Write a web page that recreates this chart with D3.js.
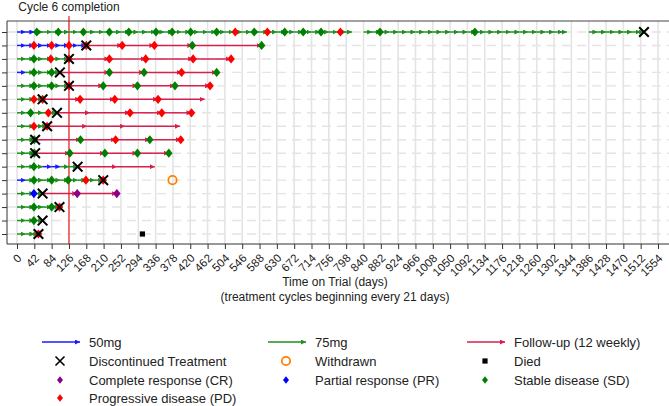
<!DOCTYPE html>
<html><head><meta charset="utf-8">
<script src="https://cdn.jsdelivr.net/npm/d3@7/dist/d3.min.js"></script>
<style>
body{margin:0;background:#fff;}
text{font-family:Arial,"Liberation Sans",sans-serif;}
</style>
</head><body>
<svg id="chart" width="669" height="406"></svg>
<script>
// ---------------- DATA ----------------
const patients = [1,2,3,4,5,6,7,8,9,10,11,12,13,14,15,16];
const xTickValues = [0,42,84,126,168,210,252,294,336,378,420,462,504,546,588,630,672,714,756,798,840,882,924,966,1008,1050,1092,1134,1176,1218,1260,1302,1344,1386,1428,1470,1512,1554];
const cycleLength = 21;
const cycle6Day = 126;
// treatment periods: [patient, dose, startDay, endDay]
const treatment = [
  [1,"50mg",0,42],[1,"75mg",42,812],[1,"75mg",840,1333],[1,"75mg",1386,1520],
  [2,"50mg",0,168],
  [3,"75mg",0,126],
  [4,"50mg",0,21],[4,"75mg",21,104],
  [5,"75mg",0,126],
  [6,"75mg",0,62],
  [7,"75mg",0,97],
  [8,"75mg",0,73],
  [9,"75mg",0,44],
  [10,"75mg",0,44],
  [11,"75mg",0,63],[11,"50mg",63,105],[11,"75mg",105,147],
  [12,"50mg",0,21],[12,"75mg",21,209],
  [13,"75mg",0,62],
  [14,"75mg",0,103],
  [15,"75mg",0,62],
  [16,"75mg",0,52]
];
// response assessments: [patient, day, response]
const assessments = [
  [1,48,"SD"],[1,100,"SD"],[1,161,"SD"],[1,224,"SD"],[1,271,"SD"],[1,337,"SD"],[1,376,"SD"],[1,421,"SD"],[1,484,"SD"],[1,529,"PD"],[1,575,"SD"],[1,607,"PD"],[1,649,"SD"],[1,694,"SD"],[1,737,"SD"],[1,784,"PD"],[1,880,"SD"],[1,1110,"SD"],
  [2,41,"PD"],[2,84,"PD"],[2,126,"PD"],[2,168,"PD"],[2,255,"PD"],[2,333,"PD"],[2,425,"SD"],[2,593,"SD"],
  [3,41,"SD"],[3,82,"PD"],[3,126,"PD"],[3,224,"PD"],[3,312,"PD"],[3,427,"PD"],[3,519,"PD"],
  [4,41,"SD"],[4,84,"SD"],[4,224,"SD"],[4,308,"SD"],[4,399,"PD"],[4,484,"SD"],
  [5,41,"SD"],[5,84,"SD"],[5,126,"PD"],[5,209,"SD"],[5,292,"SD"],[5,383,"SD"],[5,468,"PD"],
  [6,41,"PD"],[6,62,"PD"],[6,153,"PD"],[6,237,"PD"],[6,342,"PD"],
  [7,33,"SD"],[7,76,"PD"],[7,274,"PD"],[7,351,"PD"],[7,423,"PD"],
  [8,41,"PD"],[8,73,"PD"],
  [9,42,"SD"],[9,154,"SD"],[9,239,"PD"],[9,322,"SD"],[9,397,"PD"],
  [10,42,"SD"],[10,128,"SD"],[10,213,"SD"],[10,292,"SD"],[10,368,"SD"],
  [11,41,"SD"],
  [12,41,"SD"],[12,84,"SD"],[12,124,"SD"],[12,167,"PD"],[12,209,"PD"],
  [13,41,"PR"],[13,146,"CR"],[13,242,"CR"],
  [14,41,"SD"],[14,84,"SD"],[14,103,"PD"],
  [15,41,"SD"],
  [16,52,"PD"]
];
// discontinued treatment: [patient, day]
const discontinued = [[1,1520],[2,168],[3,126],[4,104],[5,126],[6,62],[7,97],[8,73],[9,44],[10,44],[11,147],[12,209],[13,62],[14,103],[15,62],[16,52]];
// follow-up visits after discontinuation: [patient, day]
const followUp = [
  [2,255],[2,333],[2,425],[2,593],
  [3,224],[3,312],[3,427],[3,519],
  [4,224],[4,308],[4,399],[4,484],
  [5,209],[5,292],[5,383],[5,468],
  [6,153],[6,237],[6,342],[6,455],
  [7,177],[7,274],[7,351],[7,423],
  [8,170],[8,262],[8,395],
  [9,154],[9,239],[9,322],[9,397],
  [10,128],[10,213],[10,292],[10,368],
  [11,242],[11,334],
  [13,146],[13,242]
];
const withdrawn = [[12,377]];
const died = [[16,304]];

// ---------------- STYLE ----------------
const doseColor = {"50mg":"#1a1aff","75mg":"#1f8f1f"};
const followColor = "#d6204e";
const respColor = {CR:"#8b008b",PR:"#0000ff",SD:"#008000",PD:"#ff0000"};

const svg = d3.select("#chart");
const plot = {left:7, right:669, top:21, bottom:244};

const x = d3.scaleLinear().domain([0,1554]).range([17,658]);
const y = d3.scalePoint().domain(patients).range([32,234]);

// markers
const defs = svg.append("defs");
function mk(id,color,sz){
  defs.append("marker").attr("id",id).attr("viewBox","0 0 10 10")
    .attr("refX",10).attr("refY",5).attr("markerUnits","userSpaceOnUse")
    .attr("markerWidth",sz).attr("markerHeight",sz).attr("orient","auto")
    .append("path").attr("d","M0,0L10,5L0,10Z").attr("fill",color);
}
mk("a50",doseColor["50mg"],5);
mk("a75",doseColor["75mg"],5);
mk("afu",followColor,5);
const markerOf = d => d==="50mg"?"url(#a50)":"url(#a75)";

// gridlines
const grid = svg.append("g");
grid.selectAll("line.v").data(xTickValues).join("line")
  .attr("x1",d=>x(d)).attr("x2",d=>x(d)).attr("y1",plot.top).attr("y2",plot.bottom)
  .attr("stroke","#e4e4e4").attr("stroke-width",1.6);
grid.selectAll("line.h").data(patients).join("line")
  .attr("x1",plot.left).attr("x2",plot.right).attr("y1",d=>y(d)).attr("y2",d=>y(d))
  .attr("stroke","#e4e4e4").attr("stroke-width",1.4).attr("stroke-dasharray","9,6");

// cycle 6 line
svg.append("line").attr("x1",x(cycle6Day)).attr("x2",x(cycle6Day)).attr("y1",16).attr("y2",plot.bottom)
  .attr("stroke","#f04848").attr("stroke-width",1.5);
svg.append("text").attr("x",x(cycle6Day)).attr("y",11).attr("text-anchor","middle")
  .attr("font-size",12).attr("fill","#222").text("Cycle 6 completion");

// frame
svg.append("line").attr("x1",plot.left).attr("x2",plot.right).attr("y1",plot.top).attr("y2",plot.top).attr("stroke","#444").attr("stroke-width",1);
svg.append("line").attr("x1",plot.left).attr("x2",plot.left).attr("y1",plot.top).attr("y2",plot.bottom).attr("stroke","#333").attr("stroke-width",1);

// axes
const xAxis = svg.append("g").attr("transform",`translate(0,${plot.bottom})`)
  .call(d3.axisBottom(x).tickValues(xTickValues).tickSize(5).tickSizeOuter(0).tickFormat(d3.format("d")));
xAxis.select(".domain").remove();
xAxis.append("line").attr("x1",plot.left).attr("x2",plot.right).attr("stroke","#333");
xAxis.selectAll(".tick line").attr("stroke","#333");
xAxis.selectAll(".tick text").attr("font-size",11.5).attr("fill","#222")
  .attr("text-anchor","end").attr("dy","0.35em").attr("y",0)
  .attr("transform","translate(2,12) rotate(-45)");

const yAxis = svg.append("g").attr("transform",`translate(${plot.left},0)`)
  .call(d3.axisLeft(y).tickSize(5).tickFormat(""));
yAxis.select(".domain").remove();
yAxis.selectAll(".tick line").attr("stroke","#333");

// treatment cycle arrows
const cycles = [];
treatment.forEach(([p,dose,s,e])=>{
  for(let c=s;c<e-0.5;c+=cycleLength){ cycles.push({p,dose,s:c,e:Math.min(c+cycleLength,e)}); }
});
svg.append("g").selectAll("line").data(cycles).join("line")
  .attr("x1",d=>x(d.s)).attr("x2",d=>x(d.e)).attr("y1",d=>y(d.p)).attr("y2",d=>y(d.p))
  .attr("stroke",d=>doseColor[d.dose]).attr("stroke-width",1.5)
  .attr("marker-end",d=>markerOf(d.dose));

// follow-up arrows
const fuSegs = [];
patients.forEach(p=>{
  const visits = followUp.filter(f=>f[0]===p).map(f=>f[1]).sort((a,b)=>a-b);
  if(!visits.length) return;
  const disc = discontinued.find(d=>d[0]===p)[1];
  let prev = disc;
  visits.forEach(v=>{ fuSegs.push({p,s:prev,e:v}); prev=v; });
});
svg.append("g").selectAll("line").data(fuSegs).join("line")
  .attr("x1",d=>x(d.s)).attr("x2",d=>x(d.e)).attr("y1",d=>y(d.p)).attr("y2",d=>y(d.p))
  .attr("stroke",followColor).attr("stroke-width",1.5).attr("marker-end","url(#afu)");

// assessments
const diamond = (w,h)=>`M0,${-h}L${w},0L0,${h}L${-w},0Z`;
svg.append("g").selectAll("path").data(assessments).join("path")
  .attr("transform",d=>`translate(${x(d[1])},${y(d[0])})`)
  .attr("d",diamond(3.8,4.6)).attr("fill",d=>respColor[d[2]]);

// discontinued X
const xPath = s=>`M${-s},${-s}L${s},${s}M${-s},${s}L${s},${-s}`;
svg.append("g").selectAll("path").data(discontinued).join("path")
  .attr("transform",d=>`translate(${x(d[1])},${y(d[0])})`)
  .attr("d",xPath(4.8)).attr("stroke","#000").attr("stroke-width",2).attr("fill","none");

// withdrawn
svg.append("g").selectAll("circle").data(withdrawn).join("circle")
  .attr("cx",d=>x(d[1])).attr("cy",d=>y(d[0])).attr("r",4.2)
  .attr("fill","none").attr("stroke","#ff8000").attr("stroke-width",1.8);
// died
svg.append("g").selectAll("rect").data(died).join("rect")
  .attr("x",d=>x(d[1])-2.6).attr("y",d=>y(d[0])-2.6).attr("width",5.2).attr("height",5.2).attr("fill","#000");

// axis titles
svg.append("text").attr("x",335).attr("y",286).attr("text-anchor","middle").attr("font-size",12).attr("fill","#222").text("Time on Trial (days)");
svg.append("text").attr("x",335).attr("y",301).attr("text-anchor","middle").attr("font-size",12).attr("fill","#222").text("(treatment cycles beginning every 21 days)");

// legend
const legendItems = [
  {col:0,row:0,type:"line",color:doseColor["50mg"],marker:"url(#a50)",label:"50mg"},
  {col:1,row:0,type:"line",color:doseColor["75mg"],marker:"url(#a75)",label:"75mg"},
  {col:2,row:0,type:"line",color:followColor,marker:"url(#afu)",label:"Follow-up (12 weekly)"},
  {col:0,row:1,type:"x",label:"Discontinued Treatment"},
  {col:1,row:1,type:"circle",label:"Withdrawn"},
  {col:2,row:1,type:"square",label:"Died"},
  {col:0,row:2,type:"diamond",color:respColor.CR,label:"Complete response (CR)"},
  {col:1,row:2,type:"diamond",color:respColor.PR,label:"Partial response (PR)"},
  {col:2,row:2,type:"diamond",color:respColor.SD,label:"Stable disease (SD)"},
  {col:0,row:3,type:"diamond",color:respColor.PD,label:"Progressive disease (PD)"}
];
const colX = [42,268,467], rowY = [342,361,380,398];
const lg = svg.append("g");
legendItems.forEach(it=>{
  const gx = colX[it.col], gy = rowY[it.row];
  const g = lg.append("g").attr("transform",`translate(${gx},${gy})`);
  const cx = 18;
  if(it.type==="line"){
    g.append("line").attr("x1",0).attr("x2",38).attr("y1",0).attr("y2",0)
      .attr("stroke",it.color).attr("stroke-width",1.5).attr("marker-end",it.marker);
  } else if(it.type==="x"){
    g.append("path").attr("transform",`translate(${cx},0)`).attr("d",xPath(4.5)).attr("stroke","#000").attr("stroke-width",1.6).attr("fill","none");
  } else if(it.type==="circle"){
    g.append("circle").attr("cx",cx).attr("r",4.2).attr("fill","none").attr("stroke","#ff8000").attr("stroke-width",1.8);
  } else if(it.type==="square"){
    g.append("rect").attr("x",cx-2.6).attr("y",-2.6).attr("width",5.2).attr("height",5.2).attr("fill","#000");
  } else {
    g.append("path").attr("transform",`translate(${cx},0)`).attr("d",diamond(3,3.8)).attr("fill",it.color);
  }
  g.append("text").attr("x",47).attr("y",0).attr("dy","0.35em").attr("font-size",13).attr("fill","#222").text(it.label);
});
</script>
</body></html>
